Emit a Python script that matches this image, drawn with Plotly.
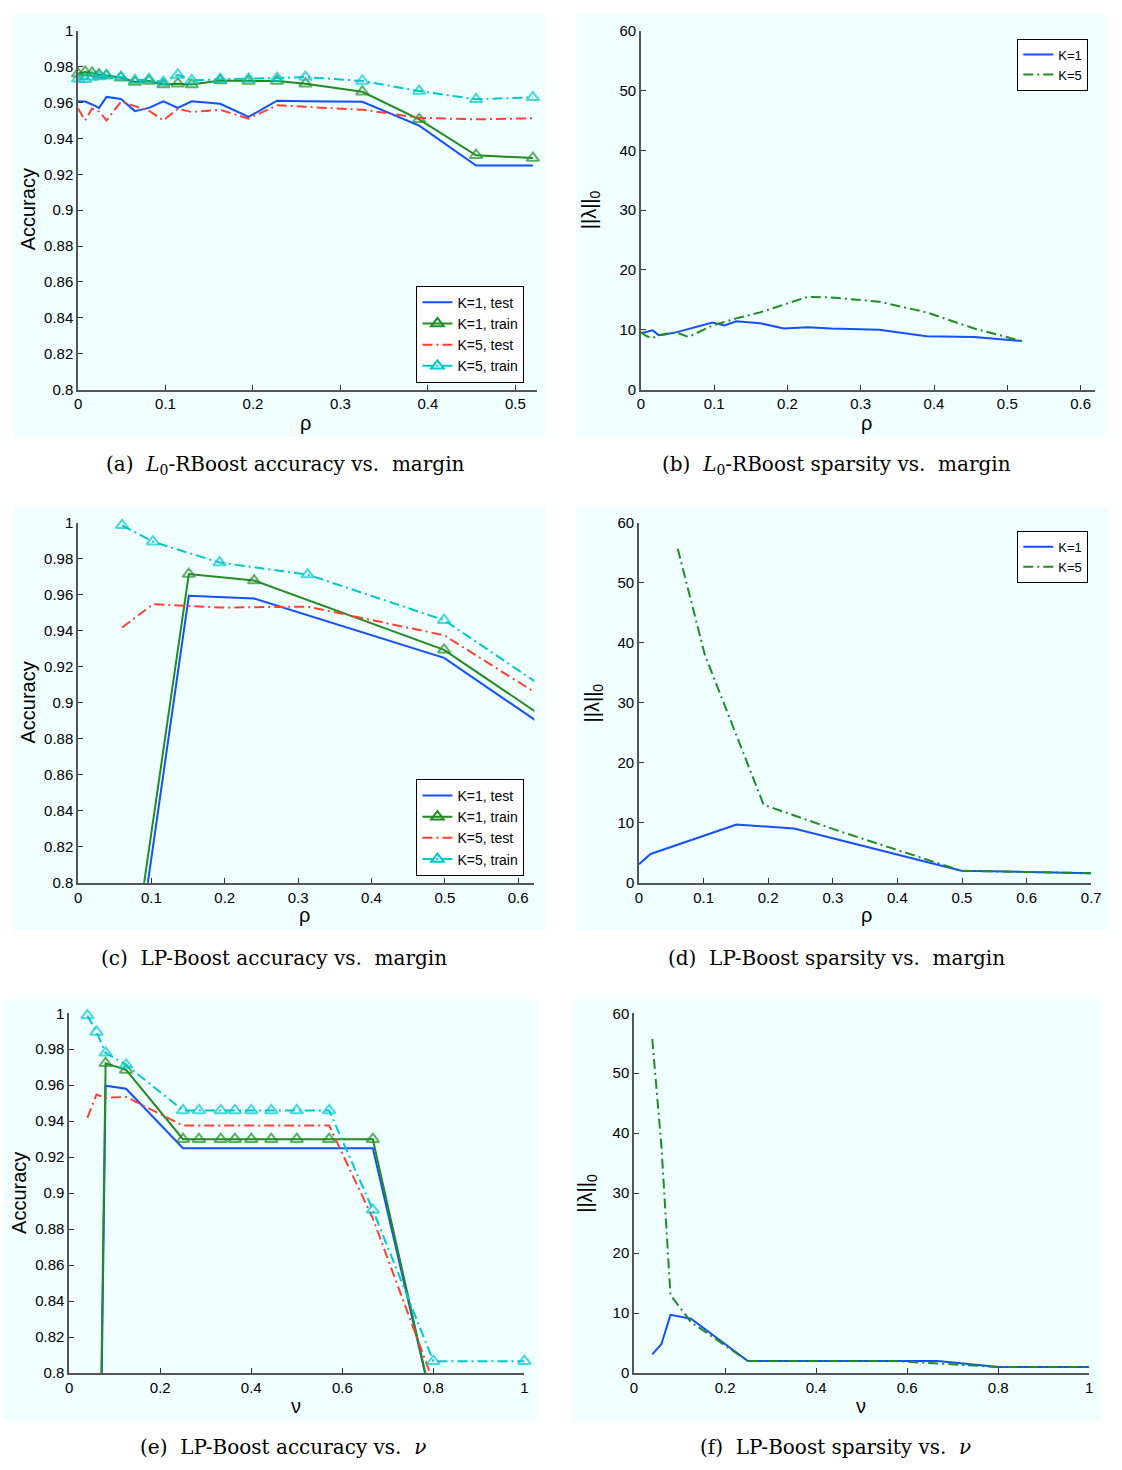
import plotly.graph_objects as go

W, H = 1122, 1470

# ---------------- data ----------------
# (a)/(b): L0-RBoost versus margin rho
rho_l0 = [0.0, 0.008, 0.016, 0.024, 0.0325, 0.049, 0.065, 0.081, 0.0975, 0.114,
          0.13, 0.1625, 0.195, 0.2275, 0.26, 0.325, 0.39, 0.455, 0.52]
a_k1_test = [0.9607, 0.9605, 0.9589, 0.957, 0.9631, 0.962, 0.9552, 0.957, 0.9607, 0.957,
             0.9607, 0.9593, 0.952, 0.961, 0.9607, 0.9604, 0.9471, 0.9249, 0.9249]
a_k1_train = [0.976, 0.977, 0.9765, 0.9755, 0.975, 0.9738, 0.9714, 0.972, 0.970, 0.9705,
              0.970, 0.9722, 0.972, 0.972, 0.9705, 0.966, 0.9506, 0.9306, 0.929]
a_k5_test = [0.9567, 0.950, 0.9567, 0.955, 0.950, 0.9605, 0.958, 0.9555, 0.950, 0.9565,
             0.9547, 0.9559, 0.951, 0.9585, 0.9576, 0.956, 0.9515, 0.9506, 0.9512]
a_k5_train = [0.9732, 0.973, 0.9742, 0.9745, 0.975, 0.9742, 0.9723, 0.9729, 0.9714, 0.9754,
              0.9723, 0.973, 0.9732, 0.9736, 0.9742, 0.972, 0.9664, 0.9618, 0.9629]
b_k1 = [9.4, 9.6, 9.9, 9.1, 9.2, 9.6, 10.1, 10.6, 11.2, 10.7,
        11.4, 11.1, 10.2, 10.4, 10.2, 10.0, 8.9, 8.8, 8.1]
b_k5 = [9.6, 8.9, 8.6, 9.1, 9.3, 9.5, 8.8, 9.8, 10.7, 11.3,
        11.9, 12.9, 14.2, 15.5, 15.4, 14.7, 12.9, 10.2, 8.1]

# (c)/(d): LP-Boost versus margin rho
rho_lp_k1 = [0.0, 0.018, 0.151, 0.24, 0.499, 0.7]
rho_lp_k5 = [0.06, 0.102, 0.193, 0.313, 0.499, 0.7]
c_k1_test = [0.54, 0.58, 0.9595, 0.958, 0.925, 0.869]
c_k1_train = [0.55, 0.597, 0.9716, 0.968, 0.9295, 0.874]
c_k5_test = [0.9419, 0.9548, 0.953, 0.9535, 0.9376, 0.886]
c_k5_train = [0.9987, 0.9896, 0.978, 0.9713, 0.946, 0.8907]
d_k1 = [3.1, 4.8, 9.7, 9.06, 2.0, 1.6]
d_k5 = [55.7, 38.0, 13.0, 8.5, 2.0, 1.6]

# (e)/(f): LP-Boost versus nu
nu = [0.04, 0.06, 0.08, 0.125, 0.25, 0.285, 0.333, 0.364, 0.4, 0.444, 0.5, 0.571, 0.667, 0.8, 1.0]
e_k1_test = [0.54, 0.58, 0.9597, 0.958, 0.925, 0.925, 0.925, 0.925, 0.925, 0.925, 0.925, 0.925, 0.925, 0.78, 0.78]
e_k1_train = [0.55, 0.597, 0.9722, 0.9685, 0.930, 0.930, 0.930, 0.930, 0.930, 0.930, 0.930, 0.930, 0.930, 0.78, 0.78]
e_k5_test = [0.9419, 0.9548, 0.953, 0.9535, 0.9376, 0.9376, 0.9376, 0.9376, 0.9376, 0.9376, 0.9376, 0.9376, 0.886, 0.795, 0.795]
e_k5_train = [0.9987, 0.9896, 0.978, 0.9713, 0.946, 0.946, 0.946, 0.946, 0.946, 0.946, 0.946, 0.946, 0.8907, 0.8066, 0.8066]
f_k1 = [3.1, 4.8, 9.7, 9.06, 2.0, 2.0, 2.0, 2.0, 2.0, 2.0, 2.0, 2.0, 2.0, 1.0, 1.0]
f_k5 = [55.7, 38.0, 13.0, 8.5, 2.0, 2.0, 2.0, 2.0, 2.0, 2.0, 2.0, 2.0, 1.6, 1.0, 1.0]

# tick labels
acc_ticks = [0.8, 0.82, 0.84, 0.86, 0.88, 0.9, 0.92, 0.94, 0.96, 0.98, 1.0]
spars_ticks = [0, 10, 20, 30, 40, 50, 60]
rho_ticks_a = [0, 0.1, 0.2, 0.3, 0.4, 0.5]
rho_ticks_b = [0, 0.1, 0.2, 0.3, 0.4, 0.5, 0.6]
rho_ticks_d = [0, 0.1, 0.2, 0.3, 0.4, 0.5, 0.6, 0.7]
nu_ticks = [0, 0.2, 0.4, 0.6, 0.8, 1.0]

captions = [
    "(a)\u00a0 <i>L</i><sub>0</sub>-RBoost accuracy vs.\u00a0 margin",
    "(b)\u00a0 <i>L</i><sub>0</sub>-RBoost sparsity vs.\u00a0 margin",
    "(c)\u00a0 LP-Boost accuracy vs.\u00a0 margin",
    "(d)\u00a0 LP-Boost sparsity vs.\u00a0 margin",
    "(e)\u00a0 LP-Boost accuracy vs.\u00a0 <i>ν</i>",
    "(f)\u00a0 LP-Boost sparsity vs.\u00a0 <i>ν</i>",
]

# ---------------- styles / geometry ----------------
BLUE = 'rgb(20,80,255)'
GREEN = 'rgb(34,139,34)'
RED = 'rgb(255,64,48)'
CYAN = 'rgb(0,200,205)'
BG = '#F0FFFF'
DASHDOT = '10px,4px,2px,4px'
SANS = 'Liberation Sans, Arial, sans-serif'
SERIF = 'DejaVu Serif, Liberation Serif, serif'

plots = {
    1: ((75, 540), (22, 385)),
    2: ((645, 1105), (22, 385)),
    3: ((75, 537), (520, 884)),
    4: ((643, 1101), (520, 884)),
    5: ((66, 527), (1016, 1380)),
    6: ((638, 1099), (1016, 1380)),
}
boxes = {1: (9, 548, 6, 433), 2: (580, 1116, 6, 433), 3: (9, 548, 504, 932),
         4: (580, 1118, 504, 932), 5: (0, 541, 1002, 1428), 6: (574, 1110, 1002, 1428)}
ranges = {
    1: ([0, 0.525], [0.8, 1], rho_ticks_a, acc_ticks),
    2: ([0, 0.62], [0, 60], rho_ticks_b, spars_ticks),
    3: ([0, 0.622], [0.8, 1], rho_ticks_d[:7], acc_ticks),
    4: ([0, 0.7], [0, 60], rho_ticks_d, spars_ticks),
    5: ([0, 1], [0.8, 1], nu_ticks, acc_ticks),
    6: ([0, 1], [0, 60], nu_ticks, spars_ticks),
}
ytitle_pos = {1: (24, 203), 2: (594, 203), 3: (24, 702), 4: (597, 702), 5: (15, 1198), 6: (590, 1198)}
xtitle_pos = {1: (305, 419), 2: (873, 419), 3: (304, 917), 4: (873, 917), 5: (296, 1413), 6: (868, 1413)}
caption_pos = {1: (285, 461), 2: (843, 461), 3: (273, 960), 4: (843, 960), 5: (283, 1455), 6: (842, 1455)}

fig = go.Figure()


def axn(i):
    return '' if i == 1 else str(i)


def msize(xs, ys, xr, yr, s=11):
    return [s if (xr[0] - 1e-9 <= xv <= xr[1] + 1e-9 and yr[0] <= yv <= yr[1]) else 0
            for xv, yv in zip(xs, ys)]


def add(i, xs, ys, color, dash, marker):
    xr, yr = ranges[i][0], ranges[i][1]
    tr = dict(x=xs, y=ys, xaxis='x' + axn(i), yaxis='y' + axn(i), showlegend=False,
              cliponaxis=False, line=dict(color=color, width=2, dash=dash), hoverinfo='skip')
    if marker:
        tr.update(mode='lines+markers',
                  marker=dict(symbol='triangle-up-open', size=msize(xs, ys, xr, yr),
                              color=color, line=dict(width=2, color=color)))
    else:
        tr.update(mode='lines')
    fig.add_trace(go.Scatter(**tr))


def legend_entry(i, legend_id, name, color, dash, marker):
    fig.add_trace(go.Scatter(
        x=[None], y=[None], xaxis='x' + axn(i), yaxis='y' + axn(i), name=name,
        legend=legend_id, mode='lines+markers' if marker else 'lines',
        line=dict(color=color, width=2, dash=dash),
        marker=dict(symbol='triangle-up-open', size=11, color=color, line=dict(width=2, color=color))))


# (a)
add(1, rho_l0, a_k1_test, BLUE, 'solid', False)
add(1, rho_l0, a_k1_train, GREEN, 'solid', True)
add(1, rho_l0, a_k5_test, RED, DASHDOT, False)
add(1, rho_l0, a_k5_train, CYAN, DASHDOT, True)
# (b)
add(2, rho_l0, b_k1, BLUE, 'solid', False)
add(2, rho_l0, b_k5, GREEN, DASHDOT, False)
# (c)
add(3, rho_lp_k1, c_k1_test, BLUE, 'solid', False)
add(3, rho_lp_k1, c_k1_train, GREEN, 'solid', True)
add(3, rho_lp_k5, c_k5_test, RED, DASHDOT, False)
add(3, rho_lp_k5, c_k5_train, CYAN, DASHDOT, True)
# (d)
add(4, rho_lp_k1, d_k1, BLUE, 'solid', False)
add(4, rho_lp_k5, d_k5, GREEN, DASHDOT, False)
# (e)
add(5, nu, e_k1_test, BLUE, 'solid', False)
add(5, nu, e_k1_train, GREEN, 'solid', True)
add(5, nu, e_k5_test, RED, DASHDOT, False)
add(5, nu, e_k5_train, CYAN, DASHDOT, True)
# (f)
add(6, nu, f_k1, BLUE, 'solid', False)
add(6, nu, f_k5, GREEN, DASHDOT, False)

# legends
for i, lid in ((1, 'legend'), (3, 'legend3')):
    legend_entry(i, lid, 'K=1, test', BLUE, 'solid', False)
    legend_entry(i, lid, 'K=1, train', GREEN, 'solid', True)
    legend_entry(i, lid, 'K=5, test', RED, DASHDOT, False)
    legend_entry(i, lid, 'K=5, train', CYAN, DASHDOT, True)
for i, lid in ((2, 'legend2'), (4, 'legend4')):
    legend_entry(i, lid, 'K=1', BLUE, 'solid', False)
    legend_entry(i, lid, 'K=5', GREEN, DASHDOT, False)

layout = dict(width=W, height=H, margin=dict(l=0, r=0, t=0, b=0),
              paper_bgcolor='white', plot_bgcolor=BG, font=dict(family=SANS, color='black'))

for i, ((x0, x1), (y0, y1)) in plots.items():
    xr, yr, xt, yt = ranges[i]
    common = dict(showline=True, linecolor='#555555', linewidth=1.5, ticks='inside', ticklen=5,
                  tickwidth=1, tickcolor='#333333', showgrid=False, zeroline=False,
                  tickfont=dict(family=SANS, size=15, color='black'), tickmode='array',
                  fixedrange=True)
    layout['xaxis' + axn(i)] = dict(common, domain=[x0 / W, x1 / W], range=xr, tickvals=xt,
                                    anchor='y' + axn(i))
    layout['yaxis' + axn(i)] = dict(common, domain=[1 - y1 / H, 1 - y0 / H], range=yr, tickvals=yt,
                                    anchor='x' + axn(i))

leg_common = dict(bgcolor='white', bordercolor='black', borderwidth=1, tracegroupgap=0)
leg_font4 = dict(family=SANS, size=14, color='black')
leg_font2 = dict(family=SANS, size=13, color='black')
layout['legend'] = dict(leg_common, font=leg_font4, x=527 / W, xanchor='right', y=1 - 378 / H, yanchor='bottom')
layout['legend3'] = dict(leg_common, font=leg_font4, x=527 / W, xanchor='right', y=1 - 877 / H, yanchor='bottom')
layout['legend2'] = dict(leg_common, font=leg_font2, x=1098 / W, xanchor='right', y=1 - 30 / H, yanchor='top')
layout['legend4'] = dict(leg_common, font=leg_font2, x=1098 / W, xanchor='right', y=1 - 528 / H, yanchor='top')

shapes = []
for i, (bx0, bx1, by0, by1) in boxes.items():
    shapes.append(dict(type='rect', xref='paper', yref='paper', x0=bx0 / W, x1=bx1 / W,
                       y0=1 - by1 / H, y1=1 - by0 / H, fillcolor=BG, line=dict(width=0), layer='below'))
layout['shapes'] = shapes

ann = []
for i in plots:
    ytxt = 'Accuracy' if i in (1, 3, 5) else '||λ||<sub>0</sub>'
    xtxt = 'ν' if i in (5, 6) else 'ρ'
    px, py = ytitle_pos[i]
    ann.append(dict(text=ytxt, x=px / W, y=1 - py / H, xref='paper', yref='paper', showarrow=False,
                    textangle=-90, xanchor='center', yanchor='middle',
                    font=dict(family=SANS, size=20, color='black')))
    px, py = xtitle_pos[i]
    ann.append(dict(text=xtxt, x=px / W, y=1 - py / H, xref='paper', yref='paper', showarrow=False,
                    xanchor='center', yanchor='middle', font=dict(family=SANS, size=20, color='black')))
    px, py = caption_pos[i]
    ann.append(dict(text=captions[i - 1], x=px / W, y=1 - py / H, xref='paper', yref='paper',
                    showarrow=False, xanchor='center', yanchor='middle',
                    font=dict(family=SERIF, size=20, color='black')))
layout['annotations'] = ann

fig.update_layout(**layout)
fig.write_html("out.html")
